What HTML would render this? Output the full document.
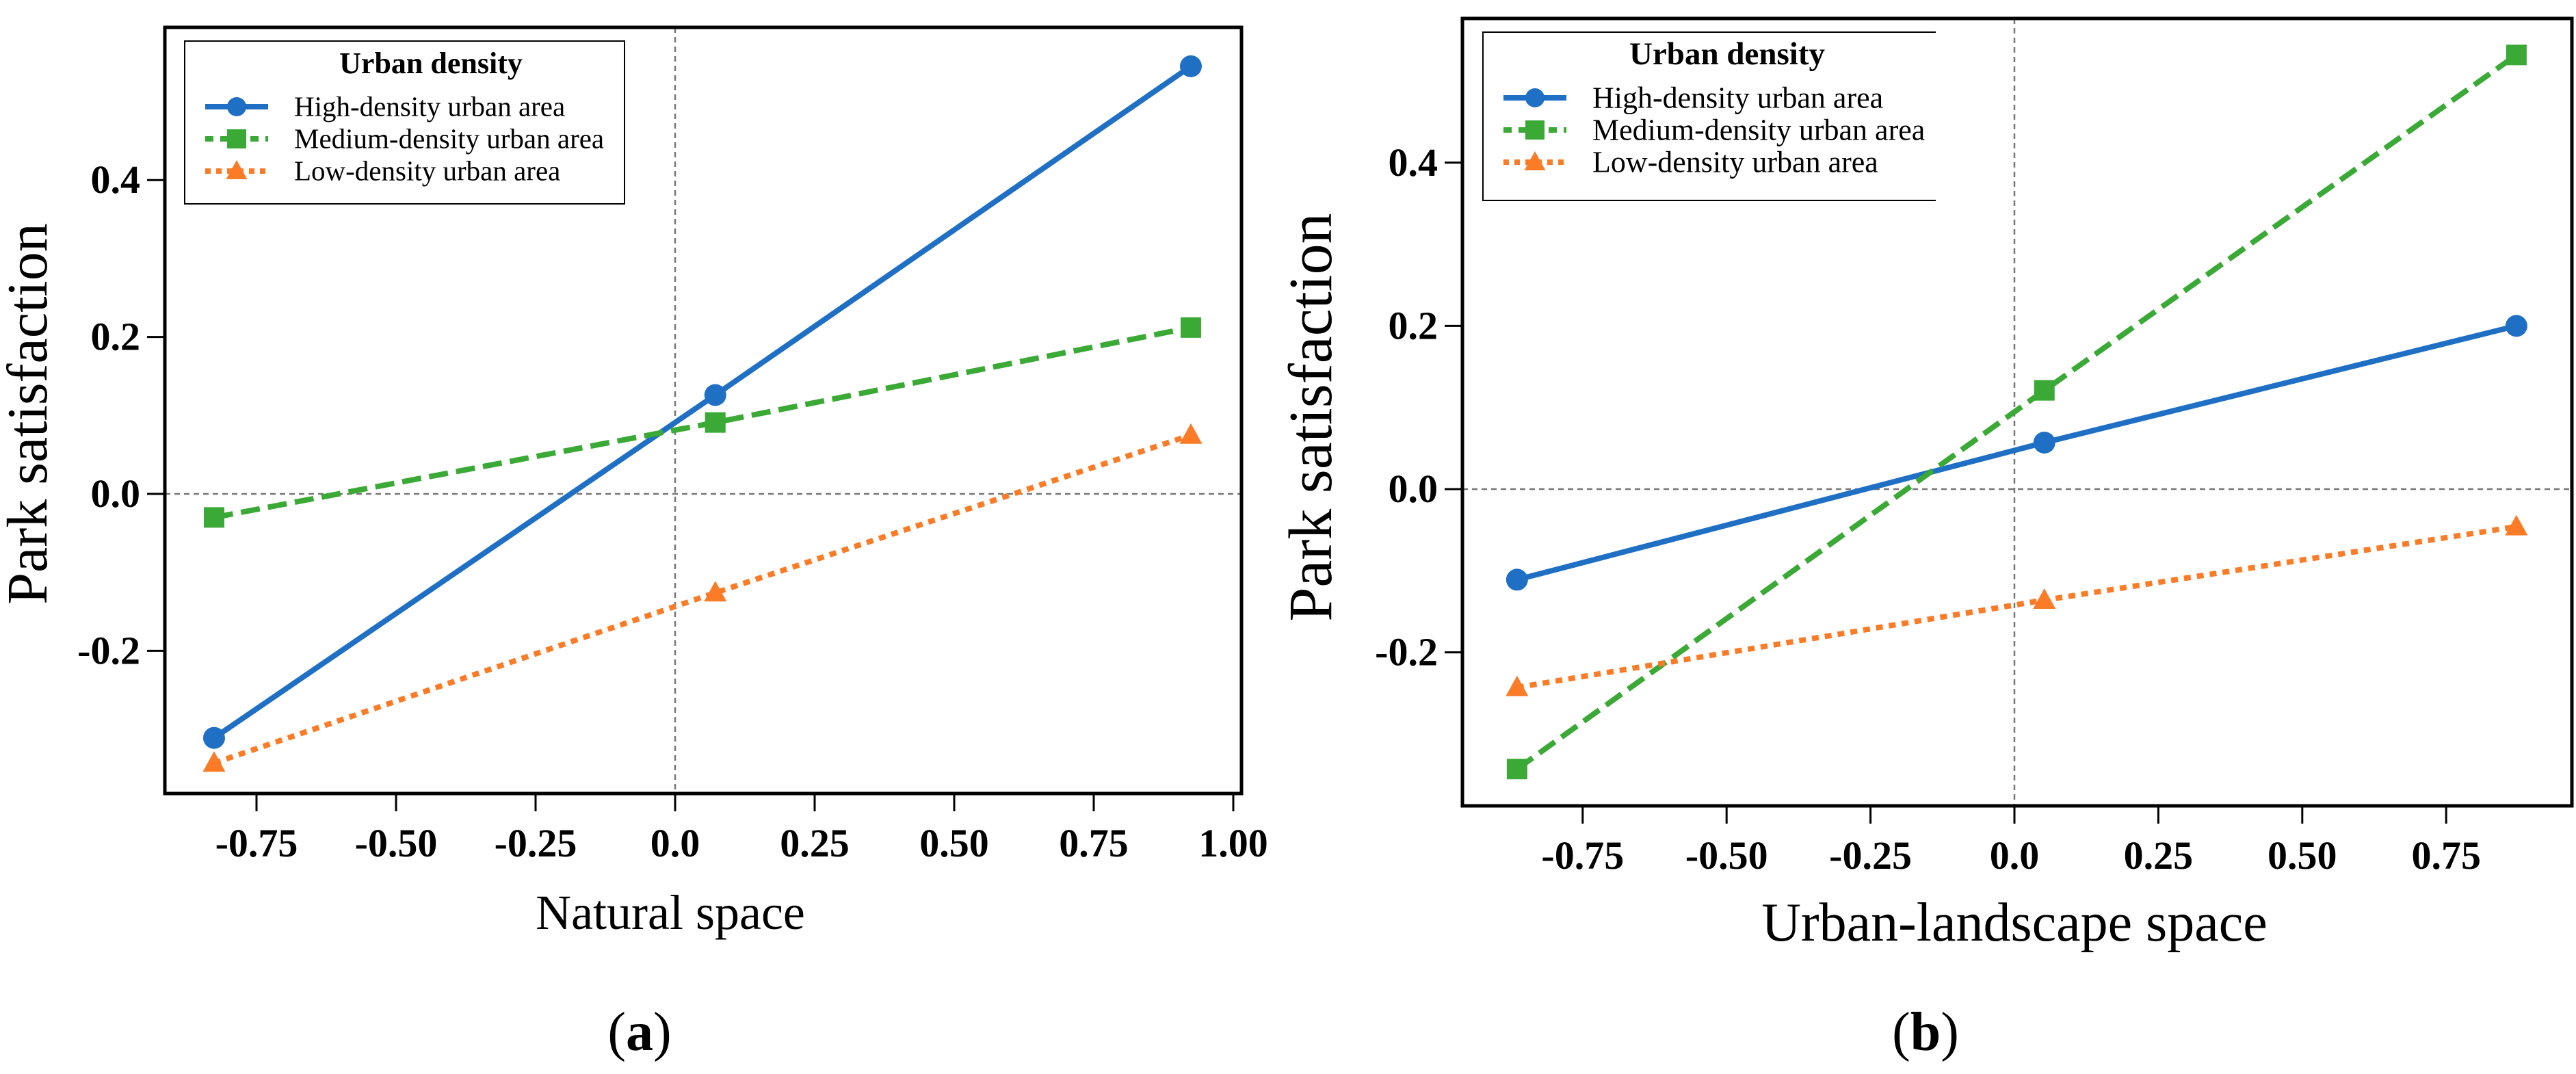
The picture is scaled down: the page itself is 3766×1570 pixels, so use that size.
<!DOCTYPE html>
<html><head><meta charset="utf-8"><style>
html,body{margin:0;padding:0;background:#fff;}
svg{display:block;font-family:"Liberation Serif",serif;}
</style></head><body>
<svg id="fig" width="3766" height="1570" viewBox="0 0 3766 1570" xmlns="http://www.w3.org/2000/svg"></svg>
<script>
const seriesNames = ["High-density urban area","Medium-density urban area","Low-density urban area"];
const xTicksA = [-0.75,-0.5,-0.25,0,0.25,0.5,0.75,1.0];
const xTickLabelsA = ["-0.75","-0.50","-0.25","0.0","0.25","0.50","0.75","1.00"];
const yTicksA = [-0.2,0,0.2,0.4];
const yTickLabelsA = ["-0.2","0.0","0.2","0.4"];
const xValsA = [-0.826,0.072,0.924];
const highA = [-0.311,0.126,0.545];
const medA = [-0.030,0.091,0.212];
const lowA = [-0.343,-0.126,0.075];

const xTicksB = [-0.75,-0.5,-0.25,0,0.25,0.5,0.75];
const xTickLabelsB = ["-0.75","-0.50","-0.25","0.0","0.25","0.50","0.75"];
const yTicksB = [-0.2,0,0.2,0.4];
const yTickLabelsB = ["-0.2","0.0","0.2","0.4"];
const xValsB = [-0.864,0.052,0.872];
const highB = [-0.111,0.057,0.200];
const medB = [-0.343,0.121,0.532];
const lowB = [-0.243,-0.136,-0.046];

const NS="http://www.w3.org/2000/svg";
const svg=document.getElementById('fig');
function mk(tag,attrs,parent){const e=document.createElementNS(NS,tag);for(const k in attrs)e.setAttribute(k,attrs[k]);(parent||svg).appendChild(e);return e;}
const colors=["#1f6fc5","#3aa935","#fb7b26"];
const dashes=["none","28,12","10,9"];

function marker(g,kind,x,y,c,s){
  let m;
  if(kind===0){m=mk('circle',{cx:x,cy:y,r:s,fill:c},g);}
  else if(kind===1){m=mk('rect',{x:x-s,y:y-s,width:2*s,height:2*s,fill:c},g);}
  else {m=mk('polygon',{points:`${x},${y-s*1.15} ${x-s*1.1},${y+s*0.85} ${x+s*1.1},${y+s*0.85}`,fill:c},g);}
  return m;
}

function panel(o){
  const g=mk('g',{});
  
  
  const X=v=>o.x0+v*o.xu, Y=v=>o.y0-v*o.yu;
  const rv=mk('line',{x1:X(0),x2:X(0),y1:o.top,y2:o.bot,stroke:'#777','stroke-width':2.5,'stroke-dasharray':'8,6'},g);
  
  const rh=mk('line',{x1:o.left,x2:o.right,y1:Y(0),y2:Y(0),stroke:'#777','stroke-width':2.5,'stroke-dasharray':'8,6'},g);
  
  const box=mk('rect',{x:o.left,y:o.top,width:o.right-o.left,height:o.bot-o.top,fill:'none',stroke:'#000','stroke-width':5},g);
  
  o.xt.forEach((t,i)=>{
    const l=mk('line',{x1:X(t),x2:X(t),y1:o.bot,y2:o.bot+26,stroke:'#000','stroke-width':3},g);
    
    const tx=mk('text',{x:X(t),y:o.bot+92,'text-anchor':'middle','font-size':o.tfs,'font-weight':'bold'},g);
    tx.textContent=o.xl[i];
    
  });
  o.yt.forEach((t,i)=>{
    const l=mk('line',{x1:o.left-26,x2:o.left,y1:Y(t),y2:Y(t),stroke:'#000','stroke-width':3},g);
    
    const tx=mk('text',{x:o.left-36,y:Y(t)+19,'text-anchor':'end','font-size':o.tfs,'font-weight':'bold'},g);
    tx.textContent=o.yl[i];
    
  });
  const data=[o.high,o.med,o.low];
  const names=['series-high-density','series-medium-density','series-low-density'];
  data.forEach((arr,k)=>{
    const sg=mk('g',{},g);
    
    const pts=arr.map((v,i)=>X(o.xv[i])+','+Y(v)).join(' ');
    const pl=mk('polyline',{points:pts,fill:'none',stroke:colors[k],'stroke-width':8,'stroke-dasharray':dashes[k]},sg);
    
    arr.forEach((v,i)=>{
      const m=marker(sg,k,X(o.xv[i]),Y(v),colors[k],k===0?16:15);
      
    });
  });
  const xt=mk('text',{x:o.xtx,y:o.xty,'text-anchor':'middle','font-size':o.afs},g);
  xt.textContent=o.xtitle;
  const yt=mk('text',{x:0,y:0,'text-anchor':'middle','font-size':o.yfs,transform:`translate(${o.ytx},${o.yty}) rotate(-90)`},g);
  yt.textContent='Park satisfaction';
  const lg=mk('g',{},g);
  
  const L=o.leg;
  if(L.openRight){
    mk('polyline',{points:`${L.x2},${L.y1} ${L.x1},${L.y1} ${L.x1},${L.y2} ${L.x2},${L.y2}`,fill:'none',stroke:'#000','stroke-width':2},lg);
  } else {
    mk('rect',{x:L.x1,y:L.y1,width:L.x2-L.x1,height:L.y2-L.y1,fill:'#fff',stroke:'#000','stroke-width':2},lg);
  }
  const lt=mk('text',{x:L.tx,y:L.y1+L.gap*0.98,'text-anchor':'middle','font-size':L.fs+3,'font-weight':'bold'},lg);
  lt.textContent='Urban density';
  seriesNames.forEach((n,k)=>{
    const e=mk('g',{},lg);
    
    const yy=L.y1+L.gap*(2.0+k*0.98);
    mk('line',{x1:L.x1+30,x2:L.x1+122,y1:yy,y2:yy,stroke:colors[k],'stroke-width':8,'stroke-dasharray':dashes[k]==='none'?'none':(k===1?'12,10':'8,8')},e);
    marker(e,k,L.x1+76,yy,colors[k],14);
    const t=mk('text',{x:L.x1+160,y:yy+L.fs*0.33,'font-size':L.fs},e);
    t.textContent=n;
  });
  const pl=mk('text',{x:o.lx,y:1535,'text-anchor':'middle','font-size':80},g);
  pl.innerHTML='(<tspan font-weight="bold">'+o.label+'</tspan>)';
  
}

panel({name:'panel-a',left:241,right:1815,top:40,bot:1160,x0:987,xu:816,y0:722,yu:1147,
  xt:xTicksA,xl:xTickLabelsA,yt:yTicksA,yl:yTickLabelsA,xv:xValsA,high:highA,med:medA,low:lowA,
  tfs:58,afs:72,yfs:84,xtitle:'Natural space',xtx:980,xty:1358,ytx:68,yty:605,
  leg:{x1:270,x2:913,y1:60,y2:298,tx:630,gap:48,fs:41},lx:935,label:'a'});
panel({name:'panel-b',left:2138,right:3760,top:27,bot:1178,x0:2945,xu:841.6,y0:715,yu:1193,
  xt:xTicksB,xl:xTickLabelsB,yt:yTicksB,yl:yTickLabelsB,xv:xValsB,high:highB,med:medB,low:lowB,
  tfs:58,afs:80,yfs:90,xtitle:'Urban-landscape space',xtx:2945,xty:1375,ytx:1946,yty:610,
  leg:{x1:2168,x2:2830,y1:47,y2:293,tx:2525,gap:48,fs:44,openRight:true},lx:2815,label:'b'});
</script>
</body></html>
